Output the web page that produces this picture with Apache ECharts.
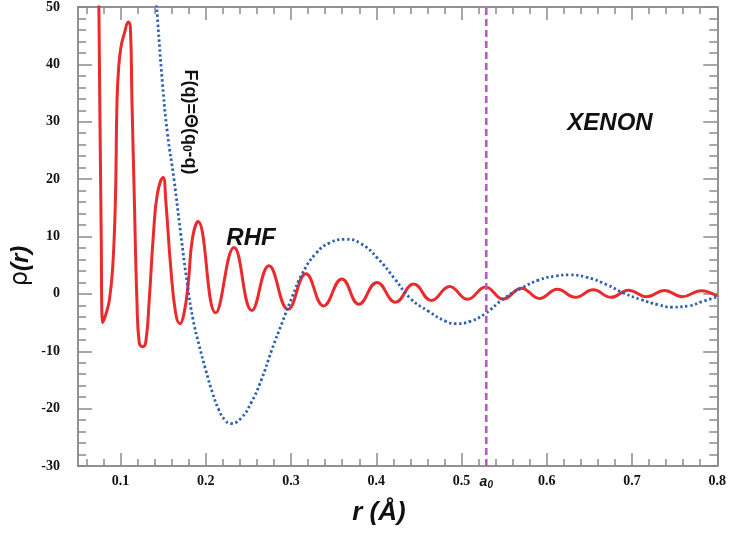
<!DOCTYPE html>
<html>
<head>
<meta charset="utf-8">
<script src="https://cdn.jsdelivr.net/npm/echarts@6/dist/echarts.min.js"></script>
<style>
html,body{margin:0;padding:0;background:#fff;}
#chart{width:729px;height:534px;}
</style>
</head>
<body>
<div id="chart"></div>
<script>
// ---- data ----
const xMin = 0.05, xMax = 0.8;
const yMin = -30, yMax = 50;
const a0 = 0.529;
const xMajorTicks = [0.1, 0.2, 0.3, 0.4, 0.5, 0.6, 0.7, 0.8];
const xMinorTicks = [0.06, 0.08, 0.12, 0.14, 0.16, 0.18, 0.22, 0.24, 0.26, 0.28, 0.32, 0.34, 0.36, 0.38,
  0.42, 0.44, 0.46, 0.48, 0.52, 0.54, 0.56, 0.58, 0.62, 0.64, 0.66, 0.68, 0.72, 0.74, 0.76, 0.78];
const xTickLabels = [0.1, 0.2, 0.3, 0.4, 0.5, 0.6, 0.7, 0.8];

// RHF density oscillation (red)
const rhfR = [0.0733, 0.0745, 0.0772, 0.0791, 0.0830, 0.0869, 0.0908, 0.0939, 0.0958, 0.0978, 0.1005, 0.1044,
  0.1091, 0.1114, 0.1133, 0.1161, 0.1191, 0.1219, 0.1258, 0.1296, 0.1336, 0.1386, 0.1432, 0.1499, 0.1529,
  0.1587, 0.1646, 0.1697, 0.1744, 0.1794, 0.1840, 0.1907, 0.2115, 0.2331, 0.2540, 0.2740, 0.2965, 0.3174,
  0.3382, 0.3596, 0.3796, 0.4008, 0.4225, 0.4438, 0.4647, 0.4859, 0.5072, 0.5281, 0.5489, 0.5703, 0.5915,
  0.6124, 0.6336, 0.6545, 0.6754, 0.6958, 0.7175, 0.7380, 0.7589, 0.7809, 0.8000];
const rhfV = [65, 50, 10.6, -5.0, -3.4, -1.0, 4.8, 16.4, 33.8, 39.6, 43.1, 45.4,
  47.4, 46.6, 33.8, 16.4, -1.0, -8.6, -9.2, -8.3, -1.0, 10.6, 17.5, 20.3, 16.4,
  4.8, -3.4, -5.2, -3.4, 1.9, 9.4, 12.6, -3.3, 8.1, -2.9, 4.9, -2.7, 3.5,
  -2.1, 2.6, -1.8, 2.0, -1.45, 1.7, -1.15, 1.3, -0.95, 1.2, -0.9, 1.0, -0.8,
  0.8, -0.6, 0.7, -0.6, 0.65, -0.5, 0.6, -0.5, 0.55, -0.4];

// F(q)=Theta(q0-q) model (blue dotted)
const stepR = [0.1374, 0.1424, 0.1491, 0.1549, 0.1627, 0.1704, 0.1782, 0.1850, 0.1922, 0.2003, 0.2077,
  0.2155, 0.2225, 0.2291, 0.2411, 0.2531, 0.2651, 0.2773, 0.2893, 0.3013, 0.3134, 0.3294, 0.3455, 0.3635,
  0.3816, 0.4016, 0.4217, 0.4400, 0.4619, 0.4819, 0.4939, 0.5100, 0.5281, 0.5501, 0.5703, 0.5903, 0.6104,
  0.6264, 0.6465, 0.6705, 0.6907, 0.7107, 0.7308, 0.7469, 0.7669, 0.7830, 0.7983];
const stepV = [60, 49.8, 36.7, 28.0, 19.9, 10.6, 1.8, -4.5, -9.0, -13.5, -17.2,
  -20.3, -22.0, -22.6, -21.7, -19.0, -15.0, -9.8, -5.1, -0.5, 3.6, 7.1, 8.9, 9.5,
  8.8, 6.2, 2.6, -0.8, -3.1, -4.8, -5.2, -4.8, -3.4, -0.75, 1.0, 2.4, 3.1,
  3.3, 2.9, 1.6, 0.1, -1.0, -1.9, -2.3, -2.1, -1.3, -0.6];

const rhfData = rhfR.map((r, i) => [r, rhfV[i]]);
const stepData = stepR.map((r, i) => [r, stepV[i]]);
const a0Data = [[a0, yMin], [a0, yMax]];

const axisGrey = '#6e6e6e';
const tickGrey = '#8a8a8a';
const labelFont = {fontFamily: '"Liberation Serif", serif', fontWeight: 'bold', fontSize: 14, color: '#111'};
const sansBI = {fontFamily: '"Liberation Sans", sans-serif', fontStyle: 'italic', fontWeight: 'bold'};

function xAxisDef(pos, ticks, len, withLine, withLabels) {
  return {
    type: 'value', position: pos, min: xMin, max: xMax,
    splitLine: {show: false},
    axisLine: {show: withLine, onZero: false, lineStyle: {color: axisGrey, width: 1.5}},
    axisTick: {show: true, inside: true, length: len, customValues: ticks, lineStyle: {color: tickGrey, width: 1.5}},
    axisLabel: withLabels ? Object.assign({
      show: true, margin: 8,
      customValues: xTickLabels.concat([a0]),
      formatter: v => (Math.abs(v - a0) < 1e-6 ? '{a|a}{s|0}' : v.toFixed(1)),
      rich: {
        a: Object.assign({fontSize: 14, color: '#111'}, sansBI),
        s: Object.assign({fontSize: 10, color: '#111', verticalAlign: 'bottom', padding: [6, 0, 0, 0]}, sansBI)
      }
    }, labelFont) : {show: false}
  };
}
function yAxisDef(pos, withLabels) {
  return {
    type: 'value', position: pos, min: yMin, max: yMax, interval: 10,
    splitLine: {show: false},
    axisLine: {show: true, onZero: false, lineStyle: {color: axisGrey, width: 1.5}},
    axisTick: {show: true, inside: true, length: 14, lineStyle: {color: tickGrey, width: 1.5}},
    minorTick: {show: true, splitNumber: 5, length: 8, lineStyle: {color: tickGrey, width: 1.5}},
    minorSplitLine: {show: false},
    axisLabel: withLabels ? Object.assign({show: true, margin: 18}, labelFont) : {show: false}
  };
}

const chart = echarts.init(document.getElementById('chart'), null, {renderer: 'canvas'});
chart.setOption({
  animation: false,
  backgroundColor: '#fff',
  grid: {left: 78, right: 7, top: 7, bottom: 68, containLabel: false},
  xAxis: [
    xAxisDef('bottom', xMajorTicks, 13, true, true),
    xAxisDef('bottom', xMinorTicks, 7, false, false),
    xAxisDef('top', xMajorTicks, 13, true, false),
    xAxisDef('top', xMinorTicks, 7, false, false)
  ],
  yAxis: [yAxisDef('left', true), yAxisDef('right', false)],
  series: [
    {
      name: 'RHF', type: 'line', data: rhfData, xAxisIndex: 0, yAxisIndex: 0,
      symbol: 'none', smooth: 0.45, clip: true,
      lineStyle: {color: '#ea2a2c', width: 3}
    },
    {
      name: 'F(q)', type: 'line', data: stepData, xAxisIndex: 0, yAxisIndex: 0,
      symbol: 'none', smooth: 0.5, clip: true,
      lineStyle: {color: '#2d5fb0', width: 2.8, type: [2.4, 2.6]}
    },
    {
      name: 'a0', type: 'line', data: a0Data, xAxisIndex: 0, yAxisIndex: 0,
      symbol: 'none', clip: true,
      lineStyle: {color: '#b25cbc', width: 2.6, type: [7, 4]}
    }
  ],
  graphic: [
    {type: 'text', x: 610, y: 123, style: {text: 'XENON', font: 'italic bold 24px "Liberation Sans", sans-serif', fill: '#111', align: 'center', verticalAlign: 'middle'}},
    {type: 'text', x: 251, y: 238, style: {text: 'RHF', font: 'italic bold 24px "Liberation Sans", sans-serif', fill: '#111', align: 'center', verticalAlign: 'middle'}},
    {type: 'text', x: 190, y: 122, rotation: -Math.PI / 2, style: {
      text: '{m|F(q)=Θ(q}{s|0}{m|-q)}', align: 'center', verticalAlign: 'middle',
      rich: {
        m: {fontFamily: '"Liberation Sans", sans-serif', fontWeight: 'bold', fontSize: 18, fill: '#111'},
        s: {fontFamily: '"Liberation Sans", sans-serif', fontWeight: 'bold', fontSize: 12, fill: '#111', verticalAlign: 'bottom', padding: [7, 0, 0, 0]}
      }
    }},
    {type: 'text', x: 21, y: 266, rotation: Math.PI / 2, style: {
      text: '{p|ρ}{r|(r)}', align: 'center', verticalAlign: 'middle',
      rich: {
        p: {fontFamily: '"DejaVu Sans", sans-serif', fontSize: 24, fill: '#111'},
        r: {fontFamily: '"Liberation Sans", sans-serif', fontStyle: 'italic', fontWeight: 'bold', fontSize: 24, fill: '#111'}
      }
    }},
    {type: 'text', x: 379, y: 513, style: {text: 'r (Å)', font: 'italic bold 26px "Liberation Sans", sans-serif', fill: '#111', align: 'center', verticalAlign: 'middle'}}
  ]
});
</script>
</body>
</html>
